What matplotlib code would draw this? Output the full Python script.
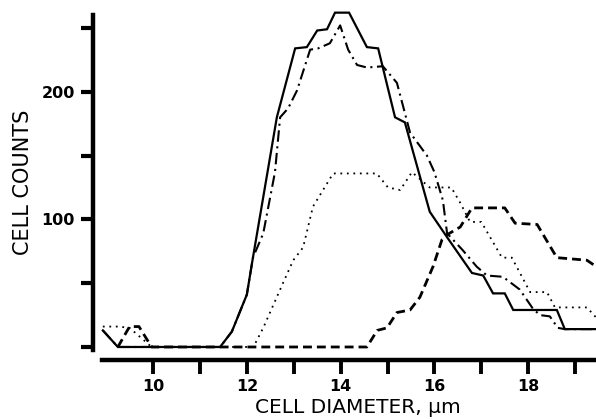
import matplotlib
matplotlib.use("Agg")
import matplotlib.pyplot as plt

# ---- data ----
solid_x = [8.93, 9.25, 11.43, 11.68, 12.0, 12.13, 12.64, 13.03, 13.28, 13.5, 13.71, 13.88,
           14.18, 14.56, 14.8, 15.16, 15.37, 15.9, 16.27, 16.8, 17.04, 17.25, 17.5, 17.68,
           18.61, 18.78, 19.45]
solid_y = [13, 0, 0, 12, 41, 70, 180, 234, 235, 248, 249, 262,
           262, 235, 234, 180, 176, 106, 86, 58, 56, 42, 42, 29,
           29, 14, 14]

dashdot_x = [8.93, 9.25, 11.43, 11.68, 12.0, 12.13, 12.35, 12.6, 12.71, 12.88, 13.07, 13.35,
             13.52, 13.77, 13.99, 14.16, 14.35, 14.56, 14.9, 15.2, 15.48, 15.84, 16.0, 16.18,
             16.27, 16.6, 16.9, 17.12, 17.46, 17.82, 18.1, 18.25, 18.46, 18.63, 18.78, 19.45]
dashdot_y = [13, 0, 0, 12, 41, 70, 89, 137, 180, 187, 201, 233,
             234, 238, 252, 233, 221, 219, 220, 207, 168, 150, 137, 115,
             89, 76, 63, 56, 55, 45, 30, 25, 24, 15, 14, 14]

dotted_x = [8.93, 9.25, 9.5, 9.97, 12.14, 12.35, 12.77, 12.99, 13.2, 13.41, 13.84, 14.77,
            15.01, 15.27, 15.52, 15.9, 16.36, 16.55, 16.76, 17.0, 17.44, 17.65, 18.04, 18.4,
            18.57, 19.25, 19.45]
dotted_y = [16, 16, 15, 0, 0, 15, 50, 68, 78, 110, 136, 136,
            125, 123, 137, 125, 125, 113, 98, 98, 70, 70, 43, 43,
            31, 31, 23]

dashed_x = [9.25, 9.5, 9.7, 9.97, 14.56, 14.78, 14.99, 15.2, 15.48, 15.69, 15.97, 16.16,
            16.27, 16.55, 16.8, 17.5, 17.72, 18.19, 18.61, 19.25, 19.45]
dashed_y = [0, 16, 16, 0, 0, 13, 15, 27, 29, 39, 63, 84,
            88, 94, 109, 109, 97, 96, 70, 68, 63]

x_ticks = [10, 11, 12, 13, 14, 15, 16, 17, 18, 19]
x_ticklabels = ["10", "", "12", "", "14", "", "16", "", "18", ""]
y_ticks = [0, 50, 100, 150, 200, 250]
y_ticklabels = ["", "", "100", "", "200", ""]

# ---- figure ----
W, H = 596, 419
fig = plt.figure(figsize=(W / 100, H / 100), dpi=100)
left_px, bottom_px, top_px = 93, 360, 5
ax = fig.add_axes([left_px / W, (H - bottom_px) / H, (W - left_px) / W, (bottom_px - top_px) / H])

ax.plot(solid_x, solid_y, color="black", lw=1.6, solid_joinstyle="miter", clip_on=False)
ax.plot(dashdot_x, dashdot_y, color="black", lw=1.5, linestyle=(0, (5.5, 2.2, 1, 2.2)), clip_on=False)
ax.plot(dotted_x, dotted_y, color="black", lw=1.3, linestyle=(0, (1, 2.6)), clip_on=False)
ax.plot(dashed_x, dashed_y, color="black", lw=2.0, linestyle=(0, (3.2, 1.8)), clip_on=False)

ax.set_xlim(8.72, 19.445)
ax.set_ylim(-10.2, 268)

for s in ["top", "right"]:
    ax.spines[s].set_visible(False)
ax.spines["left"].set_linewidth(3.2)
ax.spines["bottom"].set_linewidth(3.2)
ax.spines["left"].set_bounds(-2, 260)
ax.spines["bottom"].set_bounds(8.92, 19.445)

ax.set_xticks(x_ticks)
ax.set_xticklabels(x_ticklabels)
ax.set_yticks(y_ticks)
ax.set_yticklabels(y_ticklabels)

ax.tick_params(axis="x", direction="out", length=10, width=2.8, pad=4,
               labelsize=11.5)
ax.tick_params(axis="y", direction="out", length=9, width=3, pad=4,
               labelsize=11.5)
for lab in ax.get_xticklabels() + ax.get_yticklabels():
    lab.set_fontweight("bold")
    lab.set_fontfamily("DejaVu Sans")

fig.text(23 / W, 1 - 182 / H, "CELL COUNTS", rotation=90, ha="center", va="center",
         fontsize=15, family="DejaVu Sans")
fig.text(358 / W, 1 - 413 / H, "CELL DIAMETER, \u03bcm", ha="center", va="baseline",
         fontsize=14.5, family="DejaVu Sans")

fig.savefig("out.png", dpi=100)
